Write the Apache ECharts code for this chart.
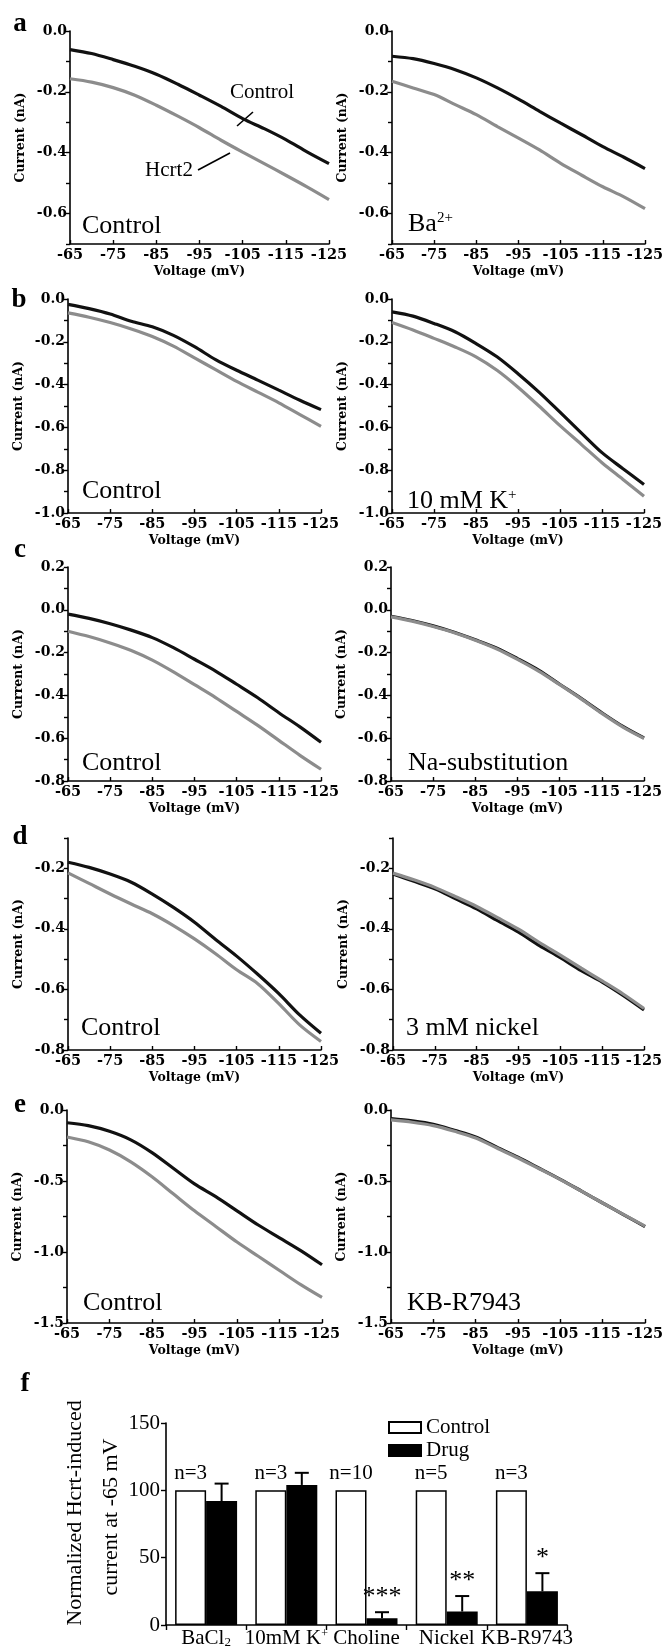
<!DOCTYPE html>
<html><head><meta charset="utf-8">
<script src="https://cdn.jsdelivr.net/npm/echarts@6/dist/echarts.min.js"></script>
<style>html,body{margin:0;padding:0;background:#fff}#c{width:662px;height:1648px}</style>
</head><body><div id="c"></div>
<script>
// ---------- DATA ----------
const voltage = [-65,-70,-75,-80,-85,-90,-95,-100,-105,-110,-115,-120,-125];
// a
const aLeftControl  = [-0.061,-0.074,-0.094,-0.116,-0.142,-0.175,-0.211,-0.248,-0.288,-0.321,-0.357,-0.398,-0.436];
const aLeftHcrt2    = [-0.157,-0.168,-0.186,-0.211,-0.244,-0.280,-0.318,-0.359,-0.398,-0.436,-0.474,-0.513,-0.554];
const aRightControl = [-0.083,-0.091,-0.107,-0.127,-0.154,-0.187,-0.224,-0.264,-0.303,-0.341,-0.380,-0.415,-0.452];
const aRightHcrt2   = [-0.165,-0.187,-0.209,-0.242,-0.275,-0.314,-0.352,-0.391,-0.435,-0.474,-0.512,-0.545,-0.584];
// b
const bLeftControl  = [-0.025,-0.045,-0.070,-0.104,-0.130,-0.170,-0.223,-0.283,-0.333,-0.379,-0.426,-0.473,-0.517];
const bLeftHcrt2    = [-0.065,-0.085,-0.110,-0.140,-0.175,-0.220,-0.275,-0.330,-0.385,-0.435,-0.485,-0.540,-0.595];
const bRightControl = [-0.060,-0.080,-0.114,-0.153,-0.208,-0.270,-0.349,-0.435,-0.529,-0.624,-0.718,-0.793,-0.867];
const bRightHcrt2   = [-0.110,-0.145,-0.184,-0.224,-0.270,-0.333,-0.412,-0.500,-0.592,-0.678,-0.765,-0.843,-0.922];
// c
const cLeftControl  = [-0.020,-0.040,-0.065,-0.095,-0.130,-0.177,-0.231,-0.286,-0.348,-0.411,-0.481,-0.547,-0.619];
const cLeftHcrt2    = [-0.100,-0.125,-0.155,-0.190,-0.235,-0.290,-0.350,-0.410,-0.475,-0.540,-0.610,-0.680,-0.745];
const cRightControl = [-0.030,-0.050,-0.075,-0.105,-0.140,-0.178,-0.228,-0.282,-0.348,-0.413,-0.481,-0.545,-0.599];
const cRightHcrt2   = [-0.033,-0.053,-0.078,-0.107,-0.142,-0.182,-0.232,-0.287,-0.350,-0.415,-0.484,-0.548,-0.601];
// d
const dLeftControl  = [-0.180,-0.197,-0.219,-0.246,-0.285,-0.329,-0.378,-0.435,-0.490,-0.550,-0.614,-0.685,-0.745];
const dLeftHcrt2    = [-0.215,-0.250,-0.285,-0.318,-0.350,-0.389,-0.433,-0.482,-0.535,-0.581,-0.647,-0.718,-0.772];
const dRightControl = [-0.219,-0.243,-0.268,-0.301,-0.334,-0.373,-0.411,-0.455,-0.495,-0.538,-0.576,-0.620,-0.668];
const dRightHcrt2   = [-0.216,-0.238,-0.263,-0.294,-0.326,-0.363,-0.401,-0.445,-0.487,-0.530,-0.572,-0.615,-0.663];
// e
const eLeftControl  = [-0.090,-0.110,-0.150,-0.210,-0.300,-0.410,-0.520,-0.610,-0.710,-0.810,-0.900,-0.990,-1.090];
const eLeftHcrt2    = [-0.190,-0.224,-0.282,-0.365,-0.470,-0.590,-0.710,-0.820,-0.930,-1.030,-1.130,-1.230,-1.320];
const eRightControl = [-0.060,-0.076,-0.100,-0.143,-0.190,-0.262,-0.333,-0.410,-0.488,-0.571,-0.655,-0.738,-0.821];
const eRightHcrt2   = [-0.070,-0.086,-0.110,-0.150,-0.197,-0.268,-0.338,-0.414,-0.490,-0.572,-0.655,-0.737,-0.818];
// f
const barCategories = ['BaCl2','10mM K+','Choline','Nickel','KB-R9743'];
const controlValues = [100,100,100,100,100];
const drugValues    = [92,104,5,10,25];
const drugErrors    = [13,9,4.5,11.5,13.5];
const nLabels       = ['n=3','n=3','n=10','n=5','n=3'];
const significance  = ['','','***','**','*'];

// ---------- LAYOUT ----------
const serif = '"Liberation Serif","Times New Roman",serif';
const tickFont = '"DejaVu Serif",serif';
const panels = [
  {c:aLeftControl, h:aLeftHcrt2, ymin:-0.7, ymax:0, step:0.1, major:0.2, g:[70,31,259,213], t:'{t|Control}', tx:82, ty:226},
  {c:aRightControl,h:aRightHcrt2,ymin:-0.7, ymax:0, step:0.1, major:0.2, g:[392,31,253,213], t:'{t|Ba}{sup|2+}', tx:408, ty:224},
  {c:bLeftControl, h:bLeftHcrt2, ymin:-1.0, ymax:0, step:0.1, major:0.2, g:[68,299,253,214], t:'{t|Control}', tx:82, ty:491},
  {c:bRightControl,h:bRightHcrt2,ymin:-1.0, ymax:0, step:0.1, major:0.2, g:[392,299,252,214], t:'{t|10 mM K}{sup|+}', tx:407, ty:501},
  {c:cLeftControl, h:cLeftHcrt2, ymin:-0.8, ymax:0.2, step:0.1, major:0.2, g:[68,567,253,214], t:'{t|Control}', tx:82, ty:763},
  {c:cRightControl,h:cRightHcrt2,ymin:-0.8, ymax:0.2, step:0.1, major:0.2, g:[391,567,253,214], t:'{t|Na-substitution}', tx:408, ty:763},
  {c:dLeftControl, h:dLeftHcrt2, ymin:-0.8, ymax:-0.1, step:0.1, major:0.2, g:[68,838,253,212], t:'{t|Control}', tx:81, ty:1028},
  {c:dRightControl,h:dRightHcrt2,ymin:-0.8, ymax:-0.1, step:0.1, major:0.2, g:[393,838,251,212], t:'{t|3 mM nickel}', tx:406, ty:1028},
  {c:eLeftControl, h:eLeftHcrt2, ymin:-1.5, ymax:0, step:0.25, major:0.5, g:[67,1110,255,213], t:'{t|Control}', tx:83, ty:1303},
  {c:eRightControl,h:eRightHcrt2,ymin:-1.5, ymax:0, step:0.25, major:0.5, g:[391,1110,254,213], t:'{t|KB-R7943}', tx:407, ty:1303}
];

const grid = [], xAxis = [], yAxis = [], series = [], graphic = [];
panels.forEach((p, i) => {
  grid.push({left:p.g[0], top:p.g[1], width:p.g[2], height:p.g[3], outerBoundsMode:'none', containLabel:false});
  xAxis.push({
    type:'value', gridIndex:i, min:-125, max:-65, interval:10, inverse:true,
    name:'Voltage (mV)', nameLocation:'middle', nameGap:21,
    nameTextStyle:{fontFamily:tickFont, fontWeight:'bold', fontSize:12.5, color:'#000'},
    axisLine:{show:true, onZero:false, lineStyle:{color:'#000', width:1.6}},
    axisTick:{show:true, inside:true, length:4, lineStyle:{color:'#000', width:1.4}},
    axisLabel:{margin:4, fontFamily:tickFont, fontWeight:'bold', fontSize:14.5, color:'#000'},
    splitLine:{show:false}
  });
  const step = p.step, m = Math.round(p.major / p.step);
  yAxis.push({
    type:'value', gridIndex:i, min:p.ymin, max:p.ymax, interval:step,
    name:'Current (nA)', nameLocation:'middle', nameGap:43, nameRotate:90,
    nameTextStyle:{fontFamily:tickFont, fontWeight:'bold', fontSize:12.5, color:'#000'},
    axisLine:{show:true, onZero:false, lineStyle:{color:'#000', width:1.6}},
    axisTick:{show:true, length:4, lineStyle:{color:'#000', width:1.4}},
    axisLabel:{margin:3, fontFamily:tickFont, fontWeight:'bold', fontSize:14, color:'#000',
      formatter: v => { const k = Math.round(v / step); if (k % m !== 0) return ''; return (Math.round(v*10)/10).toFixed(1); }},
    splitLine:{show:false}
  });
  series.push({type:'line', name:'ctrl'+i, xAxisIndex:i, yAxisIndex:i, showSymbol:false, smooth:0.3,
    data: voltage.map((v,k)=>[v, p.c[k]]), lineStyle:{color:'#111', width:3.2}, z:2});
  series.push({type:'line', name:'hcrt'+i, xAxisIndex:i, yAxisIndex:i, showSymbol:false, smooth:0.3,
    data: voltage.map((v,k)=>[v, p.h[k]]), lineStyle:{color:'#8c8c8c', width:3.2}, z:3});
  graphic.push({type:'text', x:p.tx, y:p.ty, z:10, style:{text:p.t, font:'26px "Liberation Serif"', fill:'#000',
    align:'left', verticalAlign:'middle',
    rich:{t:{font:'26px "Liberation Serif"', fontFamily:serif, fontSize:26, fill:'#000'},
          sup:{font:'15px "Liberation Serif"', fontFamily:serif, fontSize:15, fill:'#000', verticalAlign:'top', padding:[0,0,10,0]}}}});
});

// bar chart grid
const bi = panels.length;
grid.push({left:166, top:1423, width:401, height:202, outerBoundsMode:'none', containLabel:false});
xAxis.push({
  type:'category', gridIndex:bi, data:barCategories,
  axisLine:{show:true, lineStyle:{color:'#000', width:1.6}},
  axisTick:{show:true, length:5, lineStyle:{color:'#000', width:1.4}},
  axisLabel:{interval:0, margin:3, fontFamily:serif, fontSize:21, color:'#000',
    formatter: v => v === 'BaCl2' ? '{n|BaCl}{sub|2}' : (v === '10mM K+' ? '{n|10mM K}{sup|+}' : '{n|' + v + '}'),
    rich:{n:{fontFamily:serif, fontSize:21, color:'#000'},
          sub:{fontSize:13, fontFamily:serif, color:'#000', verticalAlign:'bottom', padding:[8,0,0,0]},
          sup:{fontSize:12, fontFamily:serif, color:'#000', verticalAlign:'top', padding:[0,0,8,0]}}},
  splitLine:{show:false}
});
yAxis.push({
  type:'value', gridIndex:bi, min:0, max:150, interval:50,
  axisLine:{show:true, lineStyle:{color:'#000', width:1.6}},
  axisTick:{show:true, length:5, lineStyle:{color:'#000', width:1.4}},
  axisLabel:{margin:6, fontFamily:serif, fontSize:21, color:'#000'},
  splitLine:{show:false}
});
series.push({type:'bar', name:'Control', xAxisIndex:bi, yAxisIndex:bi, data:controlValues, barWidth:31, barGap:'0%',
  itemStyle:{color:'#fff', borderColor:'#000', borderWidth:1.5},
  label:{show:true, position:'top', distance:6, formatter:p=>nLabels[p.dataIndex], fontFamily:serif, fontSize:21, color:'#000'}});
series.push({type:'bar', name:'Drug', xAxisIndex:bi, yAxisIndex:bi, data:drugValues, barWidth:31, barGap:'0%',
  itemStyle:{color:'#000', borderColor:'#000', borderWidth:1.5}});
series.push({type:'custom', name:'err', xAxisIndex:bi, yAxisIndex:bi, z:5,
  data: drugValues.map((v,i)=>[i, v, v + drugErrors[i]]),
  renderItem(params, api){
    const i = api.value(0);
    const p0 = api.coord([i, api.value(1)]);
    const p1 = api.coord([i, api.value(2)]);
    const x = p0[0] + 15.5;
    return {type:'group', children:[
      {type:'line', shape:{x1:x, y1:p0[1], x2:x, y2:p1[1]}, style:{stroke:'#000', lineWidth:2}},
      {type:'line', shape:{x1:x-7, y1:p1[1], x2:x+7, y2:p1[1]}, style:{stroke:'#000', lineWidth:2}},
      {type:'text', x:x, y:p1[1]-2, style:{text:significance[i], font:'26px "Liberation Serif"', fill:'#000', align:'center', verticalAlign:'bottom'}}
    ]};
  }});

// panel letters
[['a',20,24],['b',19,300],['c',20,550],['d',20,837],['e',20,1105],['f',25,1384]].forEach(l => {
  graphic.push({type:'text', x:l[1], y:l[2], style:{text:l[0], font:'bold 27px "Liberation Serif"', fill:'#000', align:'center', verticalAlign:'middle'}});
});
// annotations in panel a
graphic.push({type:'text', x:262, y:92, style:{text:'Control', font:'21px "Liberation Serif"', fill:'#000', align:'center', verticalAlign:'middle'}});
graphic.push({type:'text', x:169, y:170, style:{text:'Hcrt2', font:'21px "Liberation Serif"', fill:'#000', align:'center', verticalAlign:'middle'}});
graphic.push({type:'line', shape:{x1:253, y1:112, x2:237, y2:126}, style:{stroke:'#000', lineWidth:1.6}});
graphic.push({type:'line', shape:{x1:198, y1:170, x2:230, y2:153}, style:{stroke:'#000', lineWidth:1.6}});
// bar chart y title (two lines)
graphic.push({type:'text', x:75, y:1513, rotation:Math.PI/2, style:{text:'Normalized Hcrt-induced', font:'22px "Liberation Serif"', fill:'#000', align:'center', verticalAlign:'middle'}});
graphic.push({type:'text', x:111, y:1517, rotation:Math.PI/2, style:{text:'current at -65 mV', font:'22px "Liberation Serif"', fill:'#000', align:'center', verticalAlign:'middle'}});

const chart = echarts.init(document.getElementById('c'), null, {renderer:'canvas'});
chart.setOption({
  animation:false,
  backgroundColor:'#fff',
  grid, xAxis, yAxis, series, graphic,
  legend:{data:['Control','Drug'], orient:'vertical', left:383, top:1412, itemWidth:32, itemHeight:11, itemGap:2, icon:'rect',
    textStyle:{fontFamily:serif, fontSize:21, color:'#000', lineHeight:20}, selectedMode:false}
});
</script></body></html>
